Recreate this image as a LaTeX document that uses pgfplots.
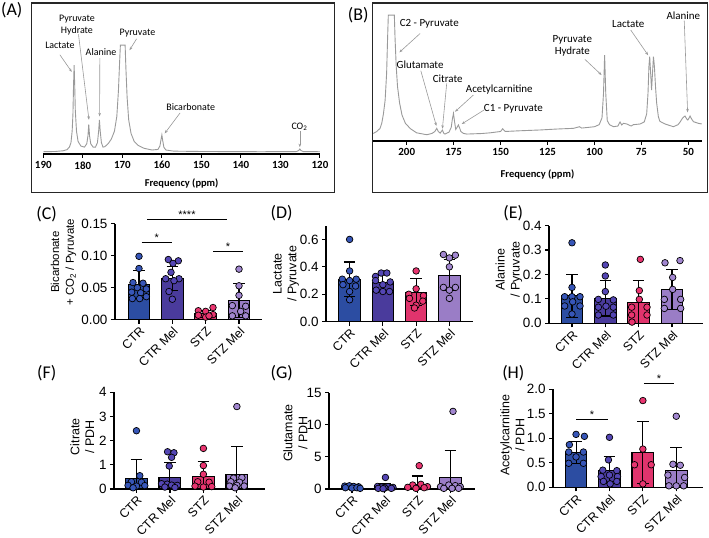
\documentclass[border=0pt]{standalone}
\usepackage{fontspec}
\setmainfont{Liberation Sans}
\newfontfamily\calib{Carlito}
\usepackage{pgfplots}
\pgfplotsset{compat=1.18}
\usetikzlibrary{arrows.meta}

\definecolor{bCTR}{HTML}{2C4DA2}
\definecolor{bMel}{HTML}{4A3B9C}
\definecolor{bSTZ}{HTML}{E0346D}
\definecolor{bSTZM}{HTML}{9A7DC6}
\definecolor{pCTR}{HTML}{3756B8}
\definecolor{pMel}{HTML}{5446B4}
\definecolor{pSTZ}{HTML}{EA3570}
\definecolor{pSTZM}{HTML}{A287D0}
\definecolor{spc}{HTML}{9A9A9A}

\tikzset{arr/.style={draw=gray!80, line width=0.6bp, -{Stealth[length=3.5bp,width=2.6bp]}}}

\pgfplotsset{
  spec/.style={scale only axis, anchor=south west, x dir=reverse, hide y axis,
    axis x line*=bottom, ymin=0, ymax=1, clip=false,
    axis line style={line width=1.2bp, black}, tick align=outside, major tick length=4bp,
    every tick/.style={black, line width=1bp},
    /pgf/number format/assume math mode=true,
    xticklabel style={font=\calib\bfseries\fontsize{11}{11}\selectfont},
    xlabel style={font=\calib\bfseries\fontsize{10.5}{11}\selectfont, anchor=center},
    xlabel={Frequency (ppm)}},
  sp/.style={color=spc, line width=0.9bp, mark=none},
  bp/.style={scale only axis, anchor=south west, axis x line*=bottom, axis y line*=left,
    ymin=0, clip=false, axis line style={line width=1.2bp, black},
    tick align=outside, major tick length=4bp, every tick/.style={black, line width=1.2bp},
    xtick={0,1,2,3}, xticklabels={CTR,CTR Mel,STZ,STZ Mel},
    xticklabel style={rotate=45, anchor=north east, inner sep=1.5bp, font=\fontsize{12.5}{12.5}\selectfont},
    yticklabel style={font=\fontsize{13.5}{13.5}\selectfont},
    ylabel style={font=\fontsize{12.5}{15}\selectfont, align=center, anchor=center},
    scaled y ticks=false, /pgf/number format/assume math mode=true},
  mbar/.style={ybar, bar width=0.65, fill=#1, draw=black, line width=1.1bp,
    error bars/y dir=both, error bars/y explicit,
    error bars/error bar style={line width=1.1bp, black},
    error bars/error mark options={rotate=90, mark size=5.8bp, line width=1.1bp, black}},
  pts/.style={only marks, mark=*, mark size=3.3bp, mark options={fill=#1, draw=black, line width=0.7bp}},
}

\begin{document}
\begin{tikzpicture}
% ---------- (A) spectrum ----------
\draw[line width=1.4bp, black!85] (31.7bp,535bp) rectangle (334.3bp,345.7bp);
\node[font=\calib\fontsize{18}{18}\selectfont] at (11.7bp,528bp) {(A)};
\begin{axis}[spec, at={(43.3bp,384bp)}, width=276.7bp, height=114bp,
  xmin=120, xmax=190, xtick={120,130,...,190},
  xlabel style={at={(axis description cs:0.5,-0.254)}}]
\addplot[sp] coordinates {(190,0.02) (187,0.022) (185,0.028) (184,0.038) (183.4,0.06) (183,0.1)
 (182.7,0.2) (182.5,0.35) (182.35,0.6) (182.2,0.78) (182.05,0.6) (181.9,0.38) (181.6,0.2)
 (181.2,0.11) (180.5,0.07) (179.6,0.06) (179,0.09) (178.7,0.16) (178.5,0.26) (178.3,0.16)
 (178,0.09) (177.4,0.06) (176.8,0.06) (176.3,0.1) (176,0.2) (175.8,0.30) (175.6,0.2)
 (175.3,0.1) (174.9,0.06) (174.4,0.065) (173.6,0.09) (172.8,0.13) (172,0.2) (171.4,0.33)
 (171,0.55) (170.7,0.8) (170.5,0.955) (169.3,0.955) (169.1,0.75) (168.8,0.5) (168.4,0.3)
 (167.8,0.18) (167,0.11) (166,0.075) (164.5,0.05) (162.5,0.035) (161,0.04) (160.5,0.07)
 (160.2,0.13) (160,0.167) (159.8,0.12) (159.5,0.06) (159,0.035) (157,0.025) (150,0.022)
 (135,0.02) (126,0.021) (125.4,0.03) (125.1,0.044) (124.8,0.03) (124.2,0.021) (120,0.02)};
\begin{scope}[font=\calib\fontsize{10}{11.7}\selectfont]
\node at (axis cs:185.8,0.95) {Lactate};
\draw[arr] (axis cs:185.8,0.87) -- (axis cs:182.8,0.72);
\node[align=center] at (axis cs:181.5,1.13) {Pyruvate\\Hydrate};
\draw[arr] (axis cs:181.1,1.05) -- (axis cs:178.45,0.30);
\node at (axis cs:175.4,0.89) {Alanine};
\draw[arr] (axis cs:175.7,0.84) -- (axis cs:175.75,0.33);
\node at (axis cs:166.2,1.06) {Pyruvate};
\draw[arr] (axis cs:166.4,1.01) -- (axis cs:168.2,0.91);
\node at (axis cs:152.7,0.415) {Bicarbonate};
\draw[arr] (axis cs:155.4,0.36) -- (axis cs:159.3,0.18);
\node at (axis cs:125.2,0.24) {CO\textsubscript{2}};
\draw[arr] (axis cs:125.1,0.20) -- (axis cs:125.1,0.06);
\end{scope}
\end{axis}

% ---------- (B) spectrum ----------
\draw[line width=1.4bp, black!85] (372.3bp,535bp) rectangle (707.5bp,345.7bp);
\node[font=\calib\fontsize{18}{18}\selectfont] at (358.3bp,523bp) {(B)};
\begin{axis}[spec, at={(373.3bp,397bp)}, width=328.4bp, height=136bp,
  xmin=42.9, xmax=217.8, xtick={50,75,...,200},
  xlabel style={at={(axis description cs:0.5,-0.245)}}]
\addplot[sp] coordinates {(217.8,0.056) (216.0,0.069) (214.2,0.093) (213.3,0.13) (212.4,0.20)
 (211.5,0.30) (210.7,0.50) (210.2,0.75) (209.8,0.926) (206.6,0.926) (206.2,0.75) (205.6,0.55)
 (204.9,0.40) (203.8,0.28) (202.5,0.19) (200.7,0.13) (198,0.09) (194.7,0.06) (189.3,0.046)
 (186.5,0.056) (185.0,0.07) (184.0,0.093) (183.2,0.07) (182.2,0.058) (181.0,0.08) (180.2,0.055)
 (179.6,0.051) (177.5,0.065) (176.3,0.10) (175.7,0.16) (175.1,0.203) (174.5,0.14) (173.9,0.085)
 (173.2,0.10) (172.5,0.118) (171.8,0.095) (171.2,0.07) (169.8,0.056) (168,0.051) (160,0.055)
 (155.6,0.06) (150,0.07) (148.9,0.09) (147.6,0.07) (140,0.075) (129.0,0.081) (120,0.088)
 (111.2,0.093) (108.0,0.105) (106.8,0.095) (100,0.105) (97.5,0.12) (96.0,0.17) (95.2,0.35)
 (94.6,0.632) (94.0,0.35) (93.2,0.15) (92,0.12) (89.9,0.105) (87.5,0.11) (86.4,0.14)
 (85.5,0.118) (84.6,0.13) (82.8,0.125) (80.5,0.11) (79.3,0.12) (75.7,0.125) (73.5,0.14)
 (72.2,0.2) (71.5,0.35) (71.0,0.55) (70.6,0.62) (70.1,0.5) (69.6,0.375) (69.1,0.5) (68.6,0.62)
 (68.1,0.55) (67.5,0.4) (66.9,0.28) (66,0.18) (65.2,0.145) (62.4,0.125) (58.0,0.105)
 (55.5,0.12) (54.4,0.14) (53,0.17) (51.8,0.184) (50.8,0.16) (50.3,0.154) (49.6,0.17)
 (49.1,0.184) (48.2,0.16) (47.3,0.142) (44.7,0.13) (42.9,0.125)};
\begin{scope}[font=\calib\fontsize{11}{12.3}\selectfont]
\node at (axis cs:188,0.865) {C2 - Pyruvate};
\draw[arr] (axis cs:192.9,0.79) -- (axis cs:203.9,0.652);
\node at (axis cs:192.9,0.56) {Glutamate};
\draw[arr] (axis cs:192.5,0.517) -- (axis cs:184.2,0.11);
\node at (axis cs:178.2,0.46) {Citrate};
\draw[arr] (axis cs:178.7,0.424) -- (axis cs:181.0,0.09);
\node at (axis cs:150.7,0.38) {Acetylcarnitine};
\draw[arr] (axis cs:164.5,0.338) -- (axis cs:174.3,0.215);
\node at (axis cs:143.2,0.233) {C1 - Pyruvate};
\draw[arr] (axis cs:158.8,0.228) -- (axis cs:170.7,0.125);
\node[align=center] at (axis cs:111.8,0.70) {Pyruvate\\Hydrate};
\draw[arr] (axis cs:105.1,0.60) -- (axis cs:96.2,0.485);
\node at (axis cs:82.0,0.86) {Lactate};
\draw[arr] (axis cs:80.7,0.816) -- (axis cs:71.4,0.63);
\node at (axis cs:52.7,0.92) {Alanine};
\draw[arr] (axis cs:52.2,0.885) -- (axis cs:50.4,0.21);
\end{scope}
\end{axis}

% ---------- (C) ----------
\node[font=\calib\fontsize{18}{18}\selectfont] at (46.7bp,324bp) {(C)};
\begin{axis}[bp, at={(115bp,218.3bp)}, width=147bp, height=96bp,
  xmin=-0.72, xmax=3.69, ymax=0.15, ytick={0,0.05,0.10,0.15},
  yticklabel style={/pgf/number format/.cd, fixed, zerofill, precision=2},
  ylabel={Bicarbonate\\+ CO\textsubscript{2} / Pyruvate},
  ylabel style={font=\fontsize{11.5}{15}\selectfont, at={(axis description cs:-0.35,0.6)}}]
\addplot[mbar=bCTR] coordinates {(0,0.055) +- (0,0.022)};
\addplot[mbar=bMel] coordinates {(1,0.064) +- (0,0.019)};
\addplot[mbar=bSTZ] coordinates {(2,0.009) +- (0,0.005)};
\addplot[mbar=bSTZM] coordinates {(3,0.030) +- (0,0.026)};
\addplot[pts=pCTR] coordinates {(0,0.099) (0,0.080) (-0.18,0.058) (0.12,0.057) (-0.05,0.050)
 (0.22,0.048) (-0.22,0.043) (0.05,0.042) (0.22,0.036) (-0.2,0.033) (0.02,0.033)};
\addplot[pts=pMel] coordinates {(0.88,0.094) (1.18,0.092) (1.02,0.088) (0.96,0.074) (0.8,0.064)
 (1.2,0.064) (1.05,0.061) (0.9,0.044) (1.0,0.032)};
\addplot[pts=pSTZ] coordinates {(1.78,0.014) (2.0,0.013) (2.22,0.019) (1.78,0.007) (2.0,0.004)
 (2.22,0.008) (2.1,0.006)};
\addplot[pts=pSTZM] coordinates {(3,0.079) (3,0.053) (3.0,0.038) (2.8,0.022) (3.2,0.021)
 (3.05,0.013) (2.8,0.006) (3.2,0.006)};
\draw[line width=1.2bp] (axis cs:0.24,0.157) -- (axis cs:2.64,0.157)
  node[midway, above, inner sep=0.5bp, font=\fontsize{11}{11}\selectfont] {****};
\draw[line width=1.2bp] (axis cs:0.08,0.121) -- (axis cs:0.98,0.121)
  node[midway, above, inner sep=0.5bp, font=\fontsize{11}{11}\selectfont] {*};
\draw[line width=1.2bp] (axis cs:2.22,0.107) -- (axis cs:3.12,0.107)
  node[midway, above, inner sep=0.5bp, font=\fontsize{11}{11}\selectfont] {*};
\end{axis}

% ---------- (D) ----------
\node[font=\calib\fontsize{18}{18}\selectfont] at (281.7bp,324.7bp) {(D)};
\begin{axis}[bp, at={(326bp,216.3bp)}, width=147bp, height=96bp,
  xmin=-0.71, xmax=3.71, ymax=0.7, ytick={0,0.2,0.4,0.6},
  yticklabel style={/pgf/number format/.cd, fixed, zerofill, precision=1},
  ylabel={Lactate\\/ Pyruvate},
  ylabel style={at={(axis description cs:-0.272,0.5)}}]
\addplot[mbar=bCTR] coordinates {(0,0.31) +- (0,0.125)};
\addplot[mbar=bMel] coordinates {(1,0.285) +- (0,0.062)};
\addplot[mbar=bSTZ] coordinates {(2,0.215) +- (0,0.10)};
\addplot[mbar=bSTZM] coordinates {(3,0.34) +- (0,0.115)};
\addplot[pts=pCTR] coordinates {(0,0.60) (0.0,0.37) (-0.22,0.31) (0.2,0.31) (0.0,0.30)
 (-0.2,0.27) (0.18,0.26) (0.0,0.22) (0.0,0.16)};
\addplot[pts=pMel] coordinates {(0.78,0.33) (0.95,0.355) (1.12,0.355) (0.78,0.30) (1.22,0.29)
 (1.0,0.27) (0.8,0.23) (1.0,0.22) (1.2,0.22)};
\addplot[pts=pSTZ] coordinates {(2.0,0.37) (2.0,0.24) (1.78,0.20) (2.22,0.19) (1.8,0.17)
 (2.2,0.15) (2.0,0.12) (1.95,0.10)};
\addplot[pts=pSTZM] coordinates {(2.82,0.49) (3.18,0.485) (3.0,0.465) (3.0,0.40) (2.82,0.25)
 (3.18,0.25) (3.0,0.23) (3.0,0.17)};
\end{axis}

% ---------- (E) ----------
\node[font=\calib\fontsize{18}{18}\selectfont] at (513.3bp,324.7bp) {(E)};
\begin{axis}[bp, at={(549bp,214.7bp)}, width=154bp, height=97.6bp,
  xmin=-0.69, xmax=3.93, ymax=0.4, ytick={0,0.1,0.2,0.3,0.4},
  yticklabel style={/pgf/number format/.cd, fixed, zerofill, precision=1},
  ylabel={Alanine\\/ Pyruvate},
  ylabel style={at={(axis description cs:-0.26,0.55)}}]
\addplot[mbar=bCTR] coordinates {(0,0.113) +- (0,0.088)};
\addplot[mbar=bMel] coordinates {(1,0.102) +- (0,0.072)};
\addplot[mbar=bSTZ] coordinates {(2,0.085) += (0,0.092) -= (0,0.085)};
\addplot[mbar=bSTZM] coordinates {(3,0.138) +- (0,0.083)};
\addplot[pts=pCTR] coordinates {(0,0.33) (0,0.147) (-0.22,0.109) (0,0.109) (0.24,0.109)
 (-0.22,0.071) (0.24,0.071) (0.0,0.038) (0.02,0.088)};
\addplot[pts=pMel] coordinates {(1,0.239) (1,0.194) (1,0.13) (0.79,0.098) (1.24,0.096)
 (0.79,0.066) (1.24,0.066) (1.02,0.07) (0.79,0.034) (1.24,0.034)};
\addplot[pts=pSTZ] coordinates {(2.05,0.262) (2.02,0.134) (2.02,0.098) (1.79,0.066) (2.25,0.066)
 (1.79,0.034) (2.25,0.034) (1.8,0.005)};
\addplot[pts=pSTZM] coordinates {(2.79,0.248) (3.24,0.257) (3.02,0.188) (3.02,0.139) (2.77,0.098)
 (3.26,0.098) (2.77,0.061) (3.26,0.061)};
\end{axis}

% ---------- (F) ----------
\node[font=\calib\fontsize{18}{18}\selectfont] at (46.7bp,165bp) {(F)};
\begin{axis}[bp, at={(114bp,49bp)}, width=151bp, height=96.7bp,
  xmin=-0.67, xmax=3.84, ymax=4, ytick={0,1,2,3,4},
  ylabel={Citrate\\/ PDH},
  ylabel style={at={(axis description cs:-0.21,0.54)}}]
\addplot[mbar=bCTR] coordinates {(0,0.43) += (0,0.78) -= (0,0.43)};
\addplot[mbar=bMel] coordinates {(1,0.47) += (0,0.62) -= (0,0.47)};
\addplot[mbar=bSTZ] coordinates {(2,0.51) += (0,0.62) -= (0,0.51)};
\addplot[mbar=bSTZM] coordinates {(3,0.61) += (0,1.14) -= (0,0.61)};
\addplot[pts=pCTR] coordinates {(0.0,2.41) (0.1,0.55) (-0.15,0.30) (0.15,0.28) (-0.25,0.15)
 (0.0,0.12) (0.25,0.14) (-0.1,0.05)};
\addplot[pts=pMel] coordinates {(0.93,1.54) (1.12,1.50) (1.05,1.31) (0.98,0.95) (0.75,0.22)
 (0.92,0.2) (1.05,0.16) (1.22,0.15) (0.85,0.08) (1.15,0.06)};
\addplot[pts=pSTZ] coordinates {(2.0,1.68) (2.0,0.97) (2.0,0.61) (1.83,0.30) (2.17,0.28)
 (1.75,0.12) (2.0,0.08) (2.25,0.1)};
\addplot[pts=pSTZM] coordinates {(3.0,3.41) (2.9,0.45) (3.15,0.47) (2.82,0.30) (3.08,0.28)
 (2.78,0.12) (3.0,0.15) (3.22,0.12) (2.95,0.05)};
\end{axis}

% ---------- (G) ----------
\node[font=\calib\fontsize{18}{18}\selectfont] at (281.7bp,165bp) {(G)};
\begin{axis}[bp, at={(329bp,49bp)}, width=146bp, height=96.3bp,
  xmin=-0.70, xmax=3.75, ymax=15, ytick={0,5,10,15},
  ylabel={Glutamate\\/ PDH},
  ylabel style={at={(axis description cs:-0.23,0.58)}}]
\addplot[mbar=bCTR] coordinates {(0,0.3) +- (0,0.15)};
\addplot[mbar=bMel] coordinates {(1,0.47) +- (0,0.45)};
\addplot[mbar=bSTZ] coordinates {(2,0.73) += (0,1.3) -= (0,0.73)};
\addplot[mbar=bSTZM] coordinates {(3,1.78) += (0,4.27) -= (0,1.78)};
\addplot[pts=pCTR] coordinates {(-0.22,0.45) (-0.08,0.5) (0.05,0.4) (0.2,0.35) (-0.2,0.2)
 (0.0,0.15) (0.15,0.2) (0.25,0.1)};
\addplot[pts=pMel] coordinates {(1.02,1.8) (0.78,0.4) (0.9,0.3) (1.1,0.35) (1.25,0.25)
 (0.8,0.1) (1.0,0.15) (1.2,0.1) (0.95,0.05)};
\addplot[pts=pSTZ] coordinates {(2.05,3.63) (1.85,0.62) (2.1,0.73) (1.7,0.26) (2.3,0.36)
 (1.95,0.1) (2.2,0.2)};
\addplot[pts=pSTZM] coordinates {(3.08,12.09) (2.7,0.36) (2.95,0.62) (3.15,0.52) (3.3,0.36)
 (2.8,0.1) (3.05,0.1) (3.25,0.1)};
\end{axis}

% ---------- (H) ----------
\node[font=\calib\fontsize{18}{18}\selectfont] at (513.3bp,165bp) {(H)};
\begin{axis}[bp, at={(553bp,50.7bp)}, width=150bp, height=98bp,
  xmin=-0.69, xmax=3.8, ymax=2, ytick={0,0.5,1,1.5,2},
  yticklabel style={/pgf/number format/.cd, fixed, zerofill, precision=1},
  ylabel={Acetylcarnitine\\/ PDH},
  ylabel style={at={(axis description cs:-0.27,0.53)}}]
\addplot[mbar=bCTR] coordinates {(0,0.71) +- (0,0.22)};
\addplot[mbar=bMel] coordinates {(1,0.35) +- (0,0.27)};
\addplot[mbar=bSTZ] coordinates {(2,0.71) +- (0,0.64)};
\addplot[mbar=bSTZM] coordinates {(3,0.35) += (0,0.47) -= (0,0.35)};
\addplot[pts=pCTR] coordinates {(0.0,1.08) (0.25,1.04) (-0.2,0.87) (-0.22,0.72) (0.22,0.72)
 (0.0,0.62) (-0.22,0.49) (0.22,0.49)};
\addplot[pts=pMel] coordinates {(1.0,1.02) (0.97,0.56) (0.8,0.35) (1.22,0.34) (0.75,0.22)
 (1.0,0.25) (1.24,0.22) (0.82,0.12) (1.22,0.12) (1.02,0.07)};
\addplot[pts=pSTZ] coordinates {(2.0,1.77) (2.0,0.78) (1.75,0.46) (2.25,0.46) (2.0,0.07)};
\addplot[pts=pSTZM] coordinates {(3.0,1.45) (2.9,0.47) (3.12,0.45) (2.75,0.25) (3.25,0.2)
 (2.78,0.03) (3.0,0.03) (3.22,0.03)};
\draw[line width=1.2bp] (axis cs:0.0,1.38) -- (axis cs:0.96,1.38)
  node[midway, above, inner sep=0.5bp, font=\fontsize{11}{11}\selectfont] {*};
\draw[line width=1.2bp] (axis cs:2.03,2.12) -- (axis cs:2.93,2.12)
  node[midway, above, inner sep=0.5bp, font=\fontsize{11}{11}\selectfont] {*};
\end{axis}

\pgfresetboundingbox
\path[use as bounding box] (0,0) rectangle (709bp,538bp);
\end{tikzpicture}
\end{document}
